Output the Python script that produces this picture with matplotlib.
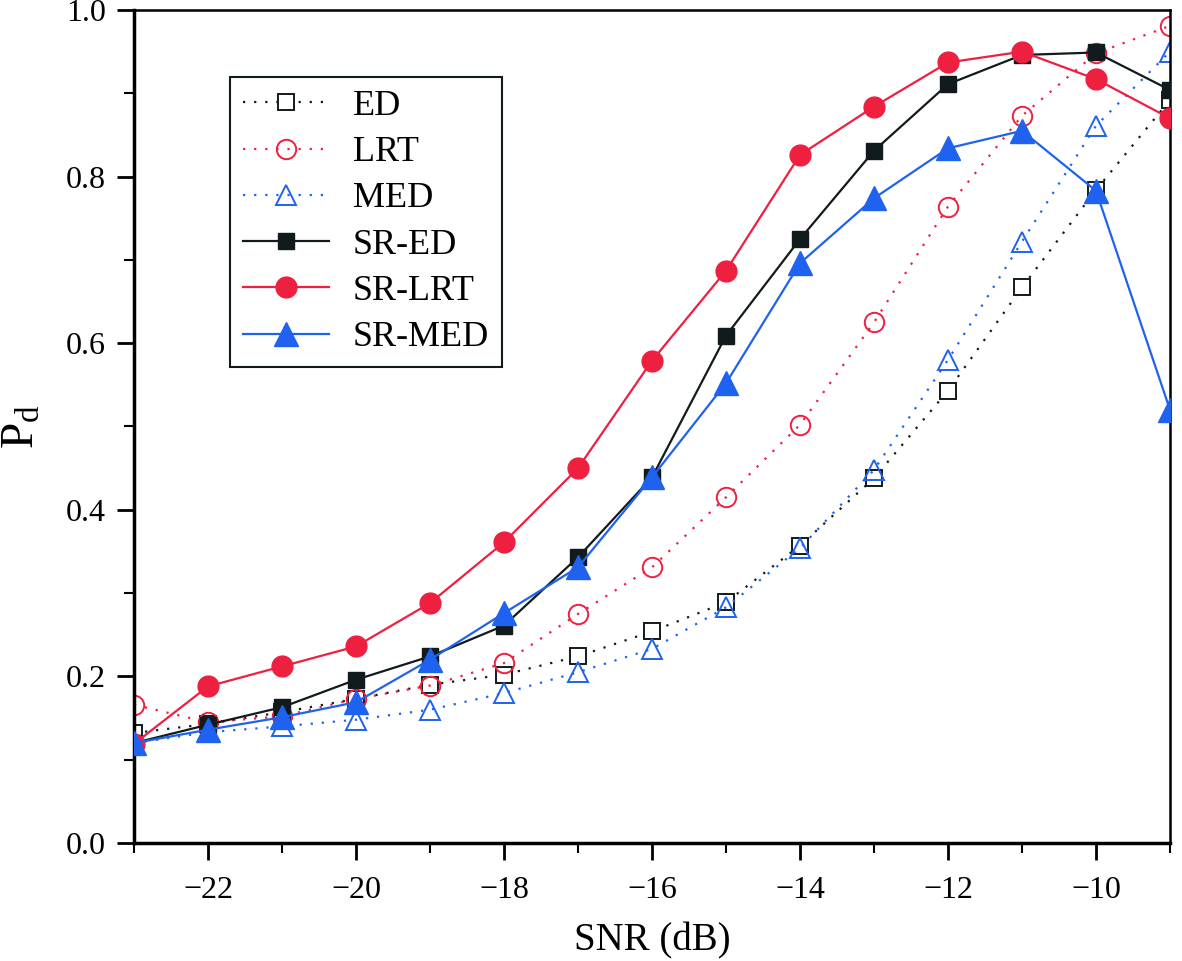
import matplotlib
matplotlib.use("Agg")
import matplotlib.pyplot as plt
from matplotlib.ticker import MultipleLocator, FuncFormatter

snr = [-23, -22, -21, -20, -19, -18, -17, -16, -15, -14, -13, -12, -11, -10, -9]

ed = [0.132, 0.143, 0.157, 0.173, 0.190, 0.202, 0.224, 0.254, 0.289, 0.357, 0.438, 0.543, 0.667, 0.784, 0.892]
lrt = [0.166, 0.145, 0.152, 0.173, 0.189, 0.216, 0.275, 0.331, 0.415, 0.502, 0.625, 0.764, 0.873, 0.948, 0.981]
med = [0.120, 0.133, 0.140, 0.148, 0.160, 0.180, 0.205, 0.233, 0.283, 0.354, 0.448, 0.580, 0.722, 0.861, 0.950]
sr_ed = [0.120, 0.142, 0.163, 0.196, 0.224, 0.261, 0.343, 0.439, 0.609, 0.725, 0.831, 0.911, 0.946, 0.949, 0.904]
sr_lrt = [0.119, 0.188, 0.212, 0.236, 0.288, 0.361, 0.450, 0.579, 0.687, 0.826, 0.884, 0.937, 0.950, 0.917, 0.870]
sr_med = [0.120, 0.136, 0.151, 0.169, 0.220, 0.276, 0.331, 0.439, 0.552, 0.696, 0.774, 0.834, 0.855, 0.783, 0.520]

labels = ["ED", "LRT", "MED", "SR-ED", "SR-LRT", "SR-MED"]

BLACK = "#111A1C"
RED = "#EE1F3F"
BLUE = "#1F62F0"

plt.rcParams['font.family'] = ['Liberation Serif', 'DejaVu Serif']
plt.rcParams['mathtext.fontset'] = 'custom'
plt.rcParams['mathtext.rm'] = 'Liberation Serif'
plt.rcParams['mathtext.it'] = 'Liberation Serif:italic'

fig = plt.figure(figsize=(11.82, 9.61), dpi=100)
ax = fig.add_axes([134/1182, 118/961, (1170-134)/1182, (843-10)/961])

dot = (0, (1, 4))
ax.plot(snr, ed, linestyle=dot, color=BLACK, lw=1.6, marker='s', ms=12,
        mfc='white', mec=BLACK, mew=1.4, label=labels[0], zorder=2)
ax.plot(snr, lrt, linestyle=dot, color=RED, lw=1.6, marker='o', ms=14,
        mfc='none', mec=RED, mew=1.4, label=labels[1], zorder=2)
ax.plot(snr, med, linestyle=dot, color=BLUE, lw=1.6, marker='^', ms=15,
        mfc='none', mec=BLUE, mew=1.4, label=labels[2], zorder=2)
ax.plot(snr, sr_ed, linestyle='-', color=BLACK, lw=1.6, marker='s', ms=12,
        mfc=BLACK, mec=BLACK, label=labels[3], zorder=3)
ax.plot(snr, sr_lrt, linestyle='-', color=RED, lw=1.6, marker='o', ms=15,
        mfc=RED, mec=RED, label=labels[4], zorder=3)
ax.plot(snr, sr_med, linestyle='-', color=BLUE, lw=1.6, marker='^', ms=17,
        mfc=BLUE, mec=BLUE, label=labels[5], zorder=4)

ax.set_xlim(-23, -9)
ax.set_ylim(0, 1.0)
ax.xaxis.set_major_locator(MultipleLocator(2))
ax.xaxis.set_minor_locator(MultipleLocator(1))
ax.yaxis.set_major_locator(MultipleLocator(0.2))
ax.yaxis.set_minor_locator(MultipleLocator(0.1))
ax.xaxis.set_major_formatter(FuncFormatter(lambda v, p: f"\u2212{abs(int(round(v)))}" if v < 0 else f"{int(round(v))}"))
ax.yaxis.set_major_formatter(FuncFormatter(lambda v, p: f"{v:.1f}"))

ax.tick_params(axis='both', which='major', direction='out', length=12, width=2, labelsize=23)
ax.tick_params(axis='both', which='minor', direction='out', length=7, width=1.5)
ax.tick_params(top=False, right=False, which='both')
ax.tick_params(axis='x', pad=12)
ax.tick_params(axis='y', pad=8)

for side in ['left', 'bottom']:
    ax.spines[side].set_linewidth(2.5)
for side in ['right', 'top']:
    ax.spines[side].set_linewidth(1.8)

ax.set_xlabel("SNR (dB)", fontsize=28, labelpad=12)
ax.set_ylabel(r"$\mathrm{P_d}$", fontsize=34, labelpad=16)

leg = ax.legend(loc='upper left', bbox_to_anchor=(0.0927, 0.9196), fontsize=26,
                frameon=True, fancybox=False, edgecolor=BLACK, framealpha=1,
                handlelength=2.4, handletextpad=0.65, labelspacing=0.36,
                borderpad=0.35, borderaxespad=0)
leg.get_frame().set_linewidth(1.5)

fig.savefig("out.png", dpi=100)
